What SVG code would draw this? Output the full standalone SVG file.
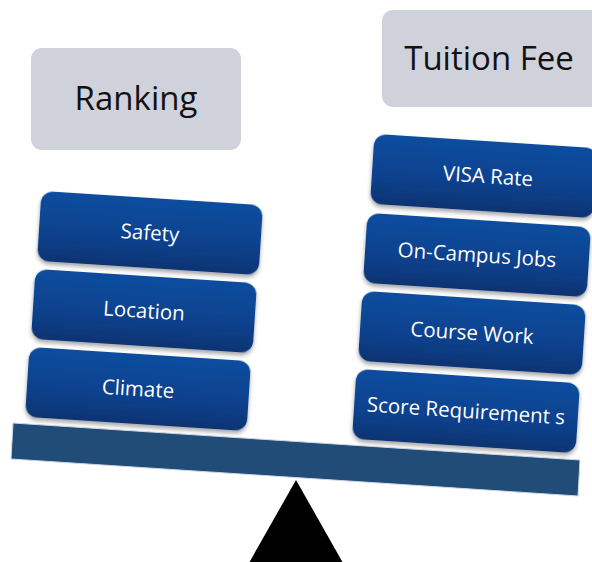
<svg xmlns="http://www.w3.org/2000/svg" width="592" height="562" viewBox="0 0 592 562">
<defs>
<linearGradient id="blue" x1="0" y1="0" x2="0" y2="1">
<stop offset="0" stop-color="#0b4d9f"/>
<stop offset="0.6" stop-color="#0a418d"/>
<stop offset="1" stop-color="#083372"/>
</linearGradient>
<filter id="sh" x="-10%" y="-20%" width="120%" height="150%">
<feDropShadow dx="0" dy="3" stdDeviation="2.2" flood-color="#000" flood-opacity="0.35"/>
</filter>
</defs>
<style>
.grey{fill:#cfd2db}
.big{font-family:"Open Sans","Noto Sans",sans-serif;font-size:33px;fill:#111;text-anchor:middle}
.blk{fill:url(#blue);filter:url(#sh)}
.lbl{font-family:"Open Sans","Noto Sans",sans-serif;font-size:20.5px;fill:#fff;text-anchor:middle}
</style>
<rect width="592" height="562" fill="#fff"/>
<g id="fulcrum"><polygon points="296,480 245,570 347,570" fill="#000"/></g>
<g id="beam"><polygon points="13,423 580,460 578,496 11,459" fill="#224c78" stroke="#cfd8e2" stroke-width="1"/></g>
<g id="ranking"><rect class="grey" x="31" y="48" width="210" height="102" rx="11"/><text class="big" x="136" y="110">Ranking</text></g>
<g id="tuition"><rect class="grey" x="382" y="10" width="220" height="97" rx="11"/><text class="big" x="489" y="70">Tuition Fee</text></g>
<g id="safety" transform="translate(150,233) rotate(3.7)"><rect class="blk" x="-111" y="-35" width="222" height="70" rx="12"/><text class="lbl" y="7">Safety</text></g>
<g id="location" transform="translate(144,311) rotate(3.7)"><rect class="blk" x="-111" y="-35" width="222" height="70" rx="12"/><text class="lbl" y="7">Location</text></g>
<g id="climate" transform="translate(138,389) rotate(3.7)"><rect class="blk" x="-111" y="-35" width="222" height="70" rx="12"/><text class="lbl" y="7">Climate</text></g>
<g id="visa" transform="translate(484,176) rotate(3.7)"><rect class="blk" x="-112" y="-35" width="224" height="70" rx="12"/><text class="lbl" x="4" y="7">VISA Rate</text></g>
<g id="jobs" transform="translate(477,255) rotate(3.7)"><rect class="blk" x="-112" y="-35" width="224" height="70" rx="12"/><text class="lbl" y="7">On-Campus Jobs</text></g>
<g id="course" transform="translate(472,333) rotate(3.7)"><rect class="blk" x="-112" y="-35" width="224" height="70" rx="12"/><text class="lbl" y="7">Course Work</text></g>
<g id="score" transform="translate(466,411) rotate(3.7)"><rect class="blk" x="-112" y="-35" width="224" height="70" rx="12"/><text class="lbl" y="7">Score Requirement s</text></g>
<g id="connectors"/>
</svg>
